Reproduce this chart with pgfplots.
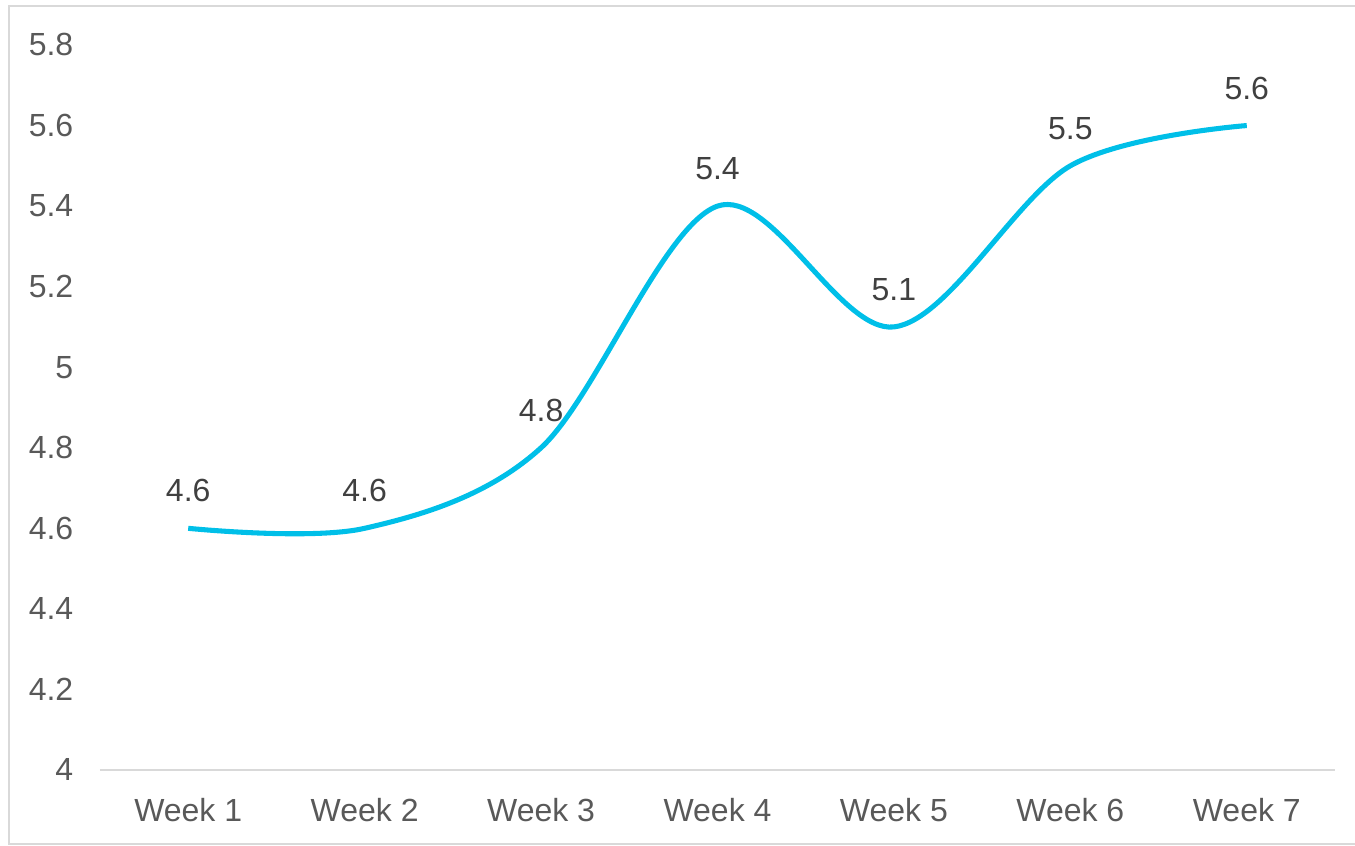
\documentclass[border=0pt]{standalone}
\usepackage{pgfplots}
\pgfplotsset{compat=1.18}
\usepackage{fontspec}
\setmainfont{Liberation Sans}
\definecolor{linecyan}{HTML}{00BFE8}
\definecolor{ticktext}{HTML}{595959}
\definecolor{labeltext}{HTML}{404040}
\definecolor{rulegray}{HTML}{D9D9D9}

\pgfplotstableread{
x val
1 4.6
2 4.6
3 4.8
4 5.4
5 5.1
6 5.5
7 5.6
}\weekly

\begin{document}
\begin{tikzpicture}
  % one pixel of the layout grid is 0.375pt
  \useasboundingbox (0pt,0pt) rectangle (508.125pt,317.25pt);
  % chart frame
  \draw[rulegray,line width=0.75pt] (510pt,0.75pt) -- (3.375pt,0.75pt) -- (3.375pt,315pt) -- (510pt,315pt);
  \begin{axis}[
      at={(37.5pt,28.5pt)}, anchor=south west,
      scale only axis,
      width=463.125pt, height=271.875pt,
      xmin=0.5, xmax=7.5,
      ymin=4, ymax=5.8,
      xtick={1,...,7},
      xticklabels={Week 1,Week 2,Week 3,Week 4,Week 5,Week 6,Week 7},
      ytick={4,4.2,4.4,4.6,4.8,5,5.2,5.4,5.6,5.8},
      yticklabels={4,4.2,4.4,4.6,4.8,5,5.2,5.4,5.6,5.8},
      axis x line*=bottom,
      axis y line*=left,
      x axis line style={rulegray,line width=0.75pt,-},
      y axis line style={draw=none},
      major tick length=0pt,
      tick label style={font=\fontsize{12}{14}\selectfont,text=ticktext},
      xticklabel style={yshift=-7pt},
      yticklabel style={xshift=-6.5pt},
      /pgf/number format/assume math mode=true,
      clip=false,
    ]
    \addplot[linecyan,line width=1.9pt,smooth,tension=0.55,
      nodes near coords,
      every node near coord/.append style={
        font=\fontsize{12}{14}\selectfont,text=labeltext,
        anchor=center,yshift=14pt},
      point meta=explicit,
      /pgf/number format/.cd,fixed,fixed zerofill,precision=1,assume math mode=true,
    ] table[x=x,y=val,meta=val] {\weekly};
  \end{axis}
\end{tikzpicture}
\end{document}
